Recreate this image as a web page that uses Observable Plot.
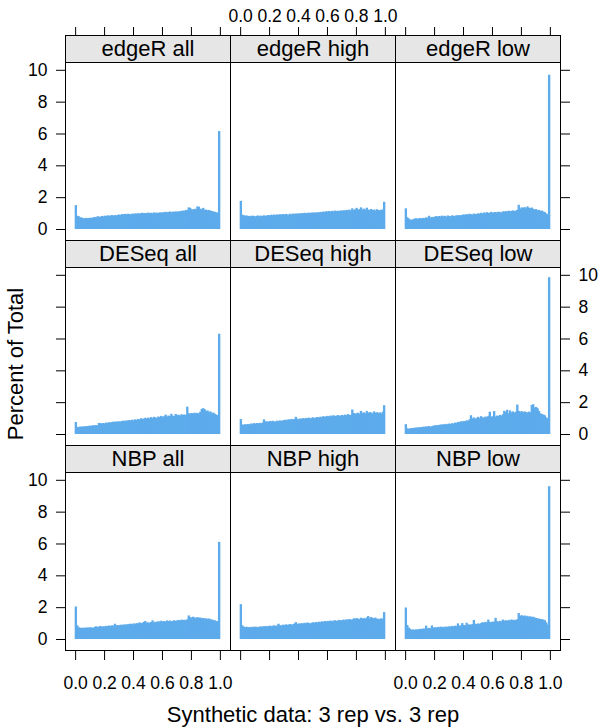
<!DOCTYPE html>
<html>
<head>
<meta charset="utf-8">
<script src="https://cdn.jsdelivr.net/npm/d3@7"></script>
<script src="https://cdn.jsdelivr.net/npm/@observablehq/plot@0.6"></script>
<style>
  html, body { margin: 0; padding: 0; background: #fff; }
  #chart { position: relative; width: 600px; height: 728px; overflow: hidden;
           font-family: "Liberation Sans", Arial, Helvetica, sans-serif; color: #000; }
  .panel { position: absolute; }
  .strip { position: absolute; box-sizing: border-box; background: #e6e6e6; border: 1px solid #000;
           font-size: 22px; line-height: 26px; text-align: center; white-space: nowrap; }
  .ylab { position: absolute; font-size: 22px; white-space: nowrap; transform: translate(-50%, -50%) rotate(-90deg); }
  .xlab { position: absolute; font-size: 22px; white-space: nowrap; transform: translate(-50%, -50%); }
</style>
</head>
<body>
<div id="chart"></div>
<script>
// ---- data ----
const panelNames = ["edgeR all", "edgeR high", "edgeR low",
                    "DESeq all", "DESeq high", "DESeq low",
                    "NBP all", "NBP high", "NBP low"];
const xTicks = [0, 0.2, 0.4, 0.6, 0.8, 1.0];
const yTicks = [0, 2, 4, 6, 8, 10];
const binWidth = 0.01;
const xLabel = "Synthetic data: 3 rep vs. 3 rep";
const yLabel = "Percent of Total";

const edgeR_all = [
  1.50,0.83,0.80,0.74,0.72,0.68,0.67,0.70,0.68,0.69,
  0.71,0.69,0.73,0.76,0.72,0.80,0.78,0.76,0.82,0.79,
  0.84,0.81,0.86,0.83,0.85,0.88,0.84,0.87,0.86,0.89,
  0.91,0.88,0.94,0.92,0.95,0.93,0.96,0.94,0.92,0.97,
  0.95,0.98,0.96,0.99,0.97,1.00,1.02,0.98,1.01,0.99,
  1.03,1.00,1.02,0.99,1.04,1.01,1.03,1.00,1.05,1.02,
  1.06,1.04,1.08,1.05,1.07,1.10,1.06,1.09,1.08,1.11,
  1.07,1.12,1.10,1.14,1.16,1.13,1.20,1.18,1.36,1.33,
  1.24,1.22,1.27,1.25,1.42,1.40,1.28,1.24,1.33,1.20,
  1.22,1.18,1.20,1.15,1.13,1.10,1.08,1.05,1.03,6.15];
const edgeR_high = [
  1.77,0.90,0.86,0.84,0.85,0.81,0.83,0.80,0.84,0.82,
  0.79,0.83,0.85,0.80,0.84,0.82,0.86,0.83,0.85,0.88,
  0.86,0.90,0.87,0.91,0.88,0.92,0.89,0.93,0.90,0.94,
  0.91,0.95,0.92,0.90,0.96,0.93,0.97,0.94,0.98,0.95,
  0.99,0.97,1.00,0.98,1.02,0.99,1.01,1.03,1.00,1.04,
  1.02,1.05,1.01,1.06,1.03,1.08,1.05,1.10,1.07,1.12,
  1.09,1.13,1.10,1.14,1.11,1.16,1.12,1.15,1.13,1.17,
  1.14,1.18,1.15,1.20,1.17,1.22,1.16,1.30,1.19,1.24,
  1.33,1.21,1.25,1.36,1.22,1.28,1.20,1.34,1.23,1.18,
  1.26,1.19,1.22,1.17,1.24,1.20,1.18,1.21,1.22,1.71];
const edgeR_low = [
  1.30,0.74,0.66,0.60,0.58,0.61,0.65,0.68,0.64,0.67,
  0.69,0.66,0.70,0.68,0.73,0.71,0.83,0.72,0.76,0.74,
  0.78,0.81,0.77,0.82,0.79,0.84,0.80,0.83,0.78,0.85,
  0.82,0.80,0.86,0.83,0.81,0.87,0.84,0.88,0.85,0.89,
  0.92,0.88,0.94,0.90,0.96,0.93,0.91,0.97,0.95,0.94,
  0.99,0.96,1.02,0.98,1.04,1.00,1.06,1.01,1.03,1.08,
  1.02,1.05,1.07,1.03,1.09,1.06,1.04,1.11,1.08,1.13,
  1.10,1.15,1.12,1.14,1.17,1.13,1.16,1.20,1.52,1.28,
  1.36,1.32,1.38,1.30,1.42,1.34,1.31,1.35,1.27,1.22,
  1.25,1.18,1.20,1.14,1.16,1.10,1.06,0.98,0.92,9.69];
const DESeq_all = [
  0.75,0.45,0.44,0.47,0.46,0.48,0.47,0.50,0.49,0.51,
  0.53,0.52,0.55,0.54,0.56,0.55,0.70,0.68,0.66,0.69,
  0.67,0.72,0.70,0.74,0.72,0.75,0.78,0.76,0.79,0.77,
  0.80,0.78,0.82,0.84,0.81,0.86,0.83,0.88,0.85,0.90,
  0.87,0.92,0.89,0.94,0.91,0.99,0.95,0.97,1.02,0.96,
  1.03,0.98,1.06,1.00,1.08,1.04,1.02,1.10,1.06,1.14,
  1.08,1.12,1.22,1.10,1.16,1.13,1.27,1.15,1.12,1.26,
  1.18,1.21,1.16,1.24,1.20,1.23,1.19,1.72,1.30,1.28,
  1.32,1.29,1.34,1.30,1.33,1.28,1.40,1.58,1.62,1.56,
  1.45,1.48,1.39,1.42,1.30,1.35,1.27,1.22,1.18,6.30];
const DESeq_high = [
  0.94,0.60,0.58,0.62,0.59,0.63,0.61,0.66,0.64,0.68,
  0.65,0.69,0.67,0.70,0.68,0.72,0.92,0.78,0.80,0.76,
  0.82,0.79,0.83,0.80,0.78,0.84,0.81,0.86,0.82,0.85,
  0.88,0.90,0.87,0.93,0.89,0.95,0.91,0.94,1.08,0.96,
  0.93,0.98,0.95,1.00,0.97,1.01,0.99,1.03,0.98,1.02,
  1.05,1.00,1.04,1.07,1.02,1.09,1.06,1.12,1.08,1.11,
  1.14,1.10,1.16,1.12,1.18,1.13,1.15,1.19,1.14,1.17,
  1.20,1.16,1.22,1.18,1.25,1.21,1.19,1.54,1.32,1.28,
  1.30,1.34,1.27,1.45,1.31,1.36,1.29,1.44,1.33,1.38,
  1.35,1.30,1.42,1.34,1.37,1.32,1.36,1.28,1.40,1.81];
const DESeq_low = [
  0.62,0.36,0.33,0.35,0.38,0.37,0.40,0.39,0.42,0.41,
  0.44,0.43,0.46,0.45,0.48,0.47,0.50,0.46,0.49,0.52,
  0.55,0.53,0.57,0.56,0.60,0.58,0.62,0.59,0.64,0.61,
  0.66,0.63,0.68,0.65,0.72,0.70,0.76,0.74,0.80,0.78,
  0.82,0.79,0.86,0.83,0.92,1.18,0.98,1.04,0.95,1.02,
  1.08,0.99,1.12,1.05,1.02,1.10,1.06,1.14,1.40,1.08,
  1.12,1.44,1.10,1.16,1.13,1.20,1.15,1.24,1.46,1.38,
  1.52,1.30,1.48,1.36,1.42,1.34,1.40,1.85,1.45,1.38,
  1.44,1.36,1.42,1.38,1.35,1.41,1.37,1.82,1.87,1.66,
  1.70,1.62,1.45,1.30,1.25,1.22,1.18,1.05,0.98,9.85];
const NBP_all = [
  2.04,0.86,0.74,0.70,0.71,0.69,0.72,0.70,0.73,0.71,
  0.74,0.72,0.70,0.76,0.80,0.75,0.78,0.82,0.77,0.80,
  0.79,0.83,0.81,0.85,0.82,0.86,0.84,0.96,0.85,0.88,
  0.86,0.90,0.87,0.92,0.89,0.93,0.91,0.95,0.96,0.93,
  0.98,0.95,1.00,0.97,1.05,0.99,1.02,1.08,1.13,1.03,
  1.05,1.01,1.07,1.17,1.04,1.09,1.06,1.12,1.08,1.15,
  1.10,1.13,1.09,1.17,1.12,1.16,1.11,1.14,1.18,1.13,
  1.17,1.20,1.16,1.22,1.19,1.21,1.18,1.24,1.48,1.38,
  1.34,1.40,1.36,1.31,1.38,1.33,1.35,1.30,1.32,1.28,
  1.30,1.26,1.29,1.24,1.22,1.20,1.17,1.14,1.12,6.10];
const NBP_high = [
  2.19,0.86,0.78,0.75,0.77,0.74,0.76,0.73,0.77,0.75,
  0.78,0.76,0.74,0.79,0.77,0.80,0.78,0.82,0.79,0.81,
  0.84,0.80,0.83,0.86,0.82,0.85,0.96,0.87,0.84,0.90,
  0.88,0.92,0.89,0.91,0.94,0.90,0.93,0.97,1.06,0.95,
  0.98,0.96,1.00,0.97,1.02,0.99,1.04,1.01,0.98,1.03,
  1.05,1.02,1.07,1.04,1.09,1.06,1.11,1.08,1.13,1.10,
  1.14,1.11,1.16,1.12,1.15,1.18,1.13,1.17,1.20,1.16,
  1.19,1.22,1.18,1.24,1.20,1.26,1.21,1.23,1.30,1.27,
  1.32,1.28,1.25,1.34,1.29,1.31,1.27,1.36,1.44,1.30,
  1.38,1.33,1.29,1.35,1.26,1.28,1.24,1.30,1.27,1.69];
const NBP_low = [
  1.98,0.88,0.72,0.64,0.58,0.60,0.57,0.61,0.59,0.62,
  0.64,0.63,0.66,0.65,0.84,0.67,0.70,0.68,0.85,0.71,
  0.74,0.72,0.76,0.73,0.78,0.75,0.77,0.74,0.79,0.76,
  0.80,0.78,0.82,0.79,0.84,0.81,0.98,0.83,0.86,1.00,
  0.88,0.85,1.02,0.90,0.92,0.89,0.94,1.20,0.96,0.93,
  0.98,0.95,1.00,1.06,1.02,1.08,1.04,1.22,1.07,1.05,
  1.10,1.08,1.33,1.12,1.09,1.14,1.11,1.22,1.15,1.18,
  1.13,1.20,1.16,1.23,1.18,1.21,1.19,1.24,1.63,1.45,
  1.50,1.44,1.48,1.41,1.46,1.39,1.43,1.37,1.40,1.35,
  1.32,1.30,1.28,1.26,1.25,1.22,1.18,1.05,0.90,9.60];

const panelValues = [edgeR_all, edgeR_high, edgeR_low,
                     DESeq_all, DESeq_high, DESeq_low,
                     NBP_all, NBP_high, NBP_low];

// ---- layout / style ----
const BLUE = "#5DABEB";
const FONT = "'Liberation Sans', Arial, Helvetica, sans-serif";
const colLeft = [65, 230, 395];
const panelTop = [62, 267, 472];
const panelW = 165, panelH = 178, stripH = 27;
const M = 70; // svg margin around each panel
const xDomain = [-0.07, 1.07];
const yDomain = [-0.69, 10.49];
const fmtX = d => d.toFixed(1);
const svgStyle = {background: "transparent", fontFamily: FONT, fontSize: "17.5px", color: "#000", overflow: "visible"};

const root = document.getElementById("chart");

function place(svg, left, top) {
  svg.classList.add("panel");
  svg.style.left = left + "px";
  svg.style.top = top + "px";
  root.appendChild(svg);
}

panelNames.forEach((name, k) => {
  const r = Math.floor(k / 3), c = k % 3;
  const rows = panelValues[k].map((v, i) => ({x1: i * binWidth, x2: (i + 1) * binWidth, pct: v}));
  const marks = [
    Plot.rectY(rows, {x1: "x1", x2: "x2", y: "pct", fill: BLUE, insetLeft: -0.45, insetRight: -0.45}),
    Plot.frame({stroke: "#000", strokeWidth: 1})
  ];
  if (r === 2) {
    marks.push(Plot.axisX({anchor: "bottom", ticks: xTicks, tickSize: 10, tickPadding: 16, label: null,
      tickFormat: fmtX, fill: c !== 1 ? "#000" : "none", stroke: "#000"}));
  }
  if (c === 0) {
    marks.push(Plot.axisY({anchor: "left", ticks: yTicks, tickSize: 9, tickPadding: 9, label: null,
      fill: r !== 1 ? "#000" : "none", stroke: "#000"}));
  }
  if (c === 2) {
    marks.push(Plot.axisY({anchor: "right", ticks: yTicks, tickSize: 9, tickPadding: 9, label: null,
      fill: r === 1 ? "#000" : "none", stroke: "#000"}));
  }
  const svg = Plot.plot({
    width: panelW + 2 * M,
    height: panelH + 2 * M,
    marginLeft: M, marginRight: M, marginTop: M, marginBottom: M,
    x: {domain: xDomain, axis: null},
    y: {domain: yDomain, axis: null, label: null},
    style: svgStyle,
    marks
  });
  place(svg, colLeft[c] - M, panelTop[r] - M);

  // top axis of the top row sits above the strip
  if (r === 0) {
    const topAxis = Plot.plot({
      width: panelW + 2 * M,
      height: M + 4,
      marginLeft: M, marginRight: M, marginTop: M, marginBottom: 0,
      x: {domain: xDomain, axis: null},
      style: svgStyle,
      marks: [
        Plot.axisX({anchor: "top", ticks: xTicks, tickSize: 9, tickPadding: 5, label: null,
          tickFormat: fmtX, fill: c === 1 ? "#000" : "none", stroke: "#000"})
      ]
    });
    place(topAxis, colLeft[c] - M, panelTop[r] - stripH - M);
  }

  const strip = document.createElement("div");
  strip.className = "strip";
  strip.textContent = name;
  strip.style.left = colLeft[c] + "px";
  strip.style.top = (panelTop[r] - stripH) + "px";
  strip.style.width = (panelW + 1) + "px";
  strip.style.height = (stripH + 1) + "px";
  root.appendChild(strip);
});

const yl = document.createElement("div");
yl.className = "ylab";
yl.textContent = yLabel;
yl.style.left = "16px";
yl.style.top = "364px";
root.appendChild(yl);

const xl = document.createElement("div");
xl.className = "xlab";
xl.textContent = xLabel;
xl.style.left = "313px";
xl.style.top = "715px";
root.appendChild(xl);
</script>
</body>
</html>
